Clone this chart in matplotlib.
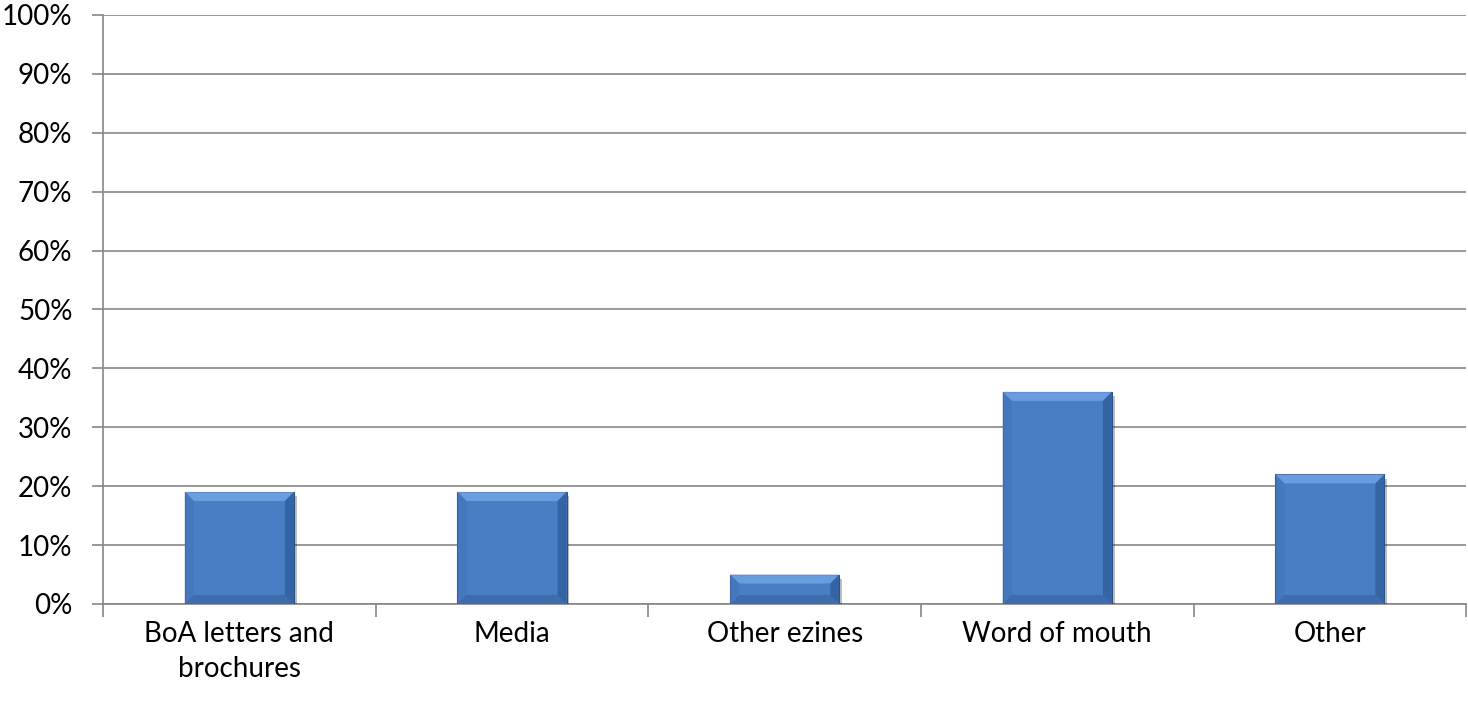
import matplotlib.pyplot as plt
import matplotlib.patheffects as pe
from matplotlib.patches import Polygon
from matplotlib.ticker import FuncFormatter, FixedLocator

categories = ['BoA letters and\nbrochures', 'Media', 'Other ezines', 'Word of mouth', 'Other']
values = [19, 19, 5, 36, 22]

plt.rcParams['font.family'] = ['Lato', 'DejaVu Sans']

fig = plt.figure(figsize=(14.68, 7.07), dpi=100)
ax = fig.add_axes([0.0702, 0.1457, 0.9286, 0.8333])

grid_col = '#868686'
bar_col = '#4a7ec4'
x = list(range(len(categories)))
bars = ax.bar(x, values, width=0.4, color=bar_col, edgecolor='#2c5186', linewidth=0.8, zorder=3,
              path_effects=[pe.SimplePatchShadow(offset=(2, -3), shadow_rgbFace='#000000', alpha=0.25), pe.Normal()])

ax.set_xlim(-0.5, len(categories) - 0.5)
ax.set_ylim(0, 100)
ax.set_yticks(range(0, 101, 10))
ax.yaxis.set_major_formatter(FuncFormatter(lambda v, _: f'{int(v)}%'))
ax.set_xticks(x)
ax.set_xticklabels(categories, fontsize=20, linespacing=1.45)
ax.xaxis.set_minor_locator(FixedLocator([i - 0.5 for i in range(len(categories) + 1)]))
ax.tick_params(axis='x', which='major', length=0, pad=12)
ax.tick_params(axis='x', which='minor', length=9, color=grid_col, width=1.2)
ax.tick_params(axis='y', length=8, color=grid_col, width=1.2, labelsize=20, pad=14)
ax.grid(axis='y', color=grid_col, linewidth=1.2, zorder=0)
ax.set_axisbelow(True)
for side in ['top', 'right']:
    ax.spines[side].set_visible(False)
for side in ['left', 'bottom']:
    ax.spines[side].set_color(grid_col)
    ax.spines[side].set_linewidth(1.2)

# bevelled edges on each bar, drawn in pixel space from the bar geometry
fig.canvas.draw()
inv = ax.transData.inverted()
bev = 9
for b in bars:
    x0, y0 = ax.transData.transform((b.get_x(), 0))
    x1, y1 = ax.transData.transform((b.get_x() + b.get_width(), b.get_height()))
    b2 = min(bev, (y1 - y0) / 2.2)
    faces = [
        ([(x0, y1), (x1, y1), (x1 - bev, y1 - b2), (x0 + bev, y1 - b2)], '#74a8ea'),
        ([(x0, y0), (x1, y0), (x1 - bev, y0 + b2), (x0 + bev, y0 + b2)], '#3a67a6'),
        ([(x0, y0), (x0, y1), (x0 + bev, y1 - b2), (x0 + bev, y0 + b2)], '#4275ba'),
        ([(x1, y0), (x1, y1), (x1 - bev, y1 - b2), (x1 - bev, y0 + b2)], '#2f5c9a'),
    ]
    for pts, col in faces:
        ax.add_patch(Polygon(inv.transform(pts), closed=True, facecolor=col, edgecolor='none',
                             alpha=0.75, zorder=4))

fig.savefig('out.png', dpi=100)
